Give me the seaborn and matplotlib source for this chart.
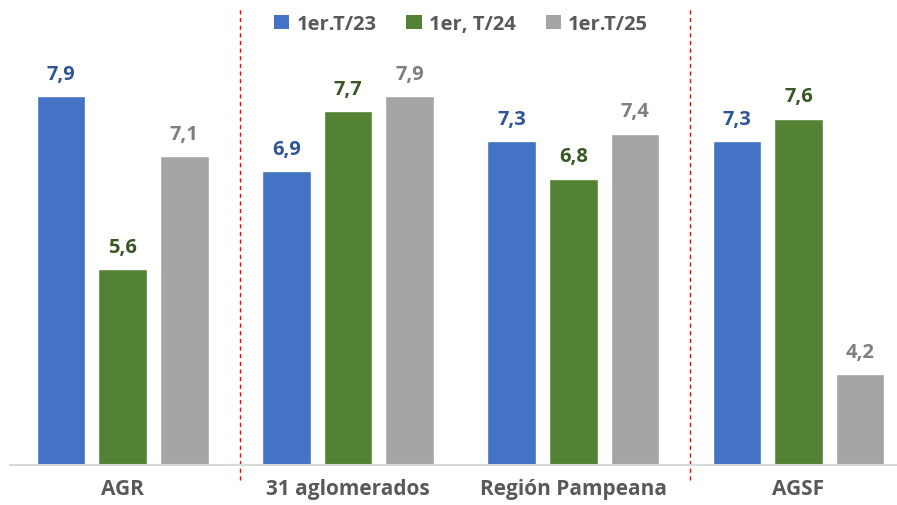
import matplotlib
matplotlib.use("Agg")
import matplotlib.pyplot as plt
import seaborn as sns
import pandas as pd
from matplotlib.patches import Patch

categories = ["AGR", "31 aglomerados", "Región Pampeana", "AGSF"]
series_names = ["1er.T/23", "1er, T/24", "1er.T/25"]
vals_23 = [7.9, 6.9, 7.3, 7.3]
vals_24 = [5.6, 7.7, 6.8, 7.6]
vals_25 = [7.1, 7.9, 7.4, 4.2]

bar_colors = ["#4472C4", "#548235", "#A5A5A5"]
label_colors = ["#2F5597", "#385723", "#7F7F7F"]

rows = []
for name, vals in zip(series_names, [vals_23, vals_24, vals_25]):
    for c, v in zip(categories, vals):
        rows.append({"cat": c, "serie": name, "valor": v})
df = pd.DataFrame(rows)

sns.set_theme(style="white")
plt.rcParams["font.family"] = ["Open Sans", "DejaVu Sans"]

fig = plt.figure(figsize=(8.97, 5.06), dpi=100)
W, H = 897, 506
ax = fig.add_axes([10 / W, (506 - 465.5) / H, 887 / W, 465.5 / H])

sns.barplot(data=df, x="cat", y="valor", hue="serie", order=categories,
            hue_order=series_names, palette=bar_colors, width=0.82, gap=0.21,
            saturation=1, ax=ax, legend=False, errorbar=None)

ax.set_ylim(3.0, 3.0 + 465.5 / 75.14)
ax.set_xlim(-0.5, -0.5 + 887 / 225.3)

for cont, col in zip(ax.containers, label_colors):
    ax.bar_label(cont, labels=[f"{v:.1f}".replace(".", ",") for v in cont.datavalues],
                 padding=9, color=col, fontsize=14.5, fontweight="bold")

for s in ["top", "right", "left"]:
    ax.spines[s].set_visible(False)
ax.spines["bottom"].set_color("#D9D9D9")
ax.spines["bottom"].set_linewidth(1.5)
ax.set_yticks([])
ax.set_xlabel("")
ax.set_ylabel("")
ax.tick_params(axis="x", length=0, pad=10, labelsize=15, labelcolor="#595959")
for t in ax.get_xticklabels():
    t.set_fontweight("bold")

for xv in [0.52, 2.52]:
    ax.plot([xv, xv], [2.8, 9.06], color="#FF0000", linestyle=(0, (3, 2.5)),
            linewidth=1.0, clip_on=False)

handles = [Patch(facecolor=c, edgecolor="none") for c in bar_colors]
leg = fig.legend(handles, series_names, loc="center", bbox_to_anchor=(461 / W, 1 - 25 / H),
                 ncol=3, frameon=False, handlelength=0.75, handleheight=0.75,
                 handletextpad=0.35, columnspacing=1.5,
                 prop={"size": 14.5, "weight": "bold"})
for t in leg.get_texts():
    t.set_color("#595959")

fig.savefig("out.png", dpi=100)
